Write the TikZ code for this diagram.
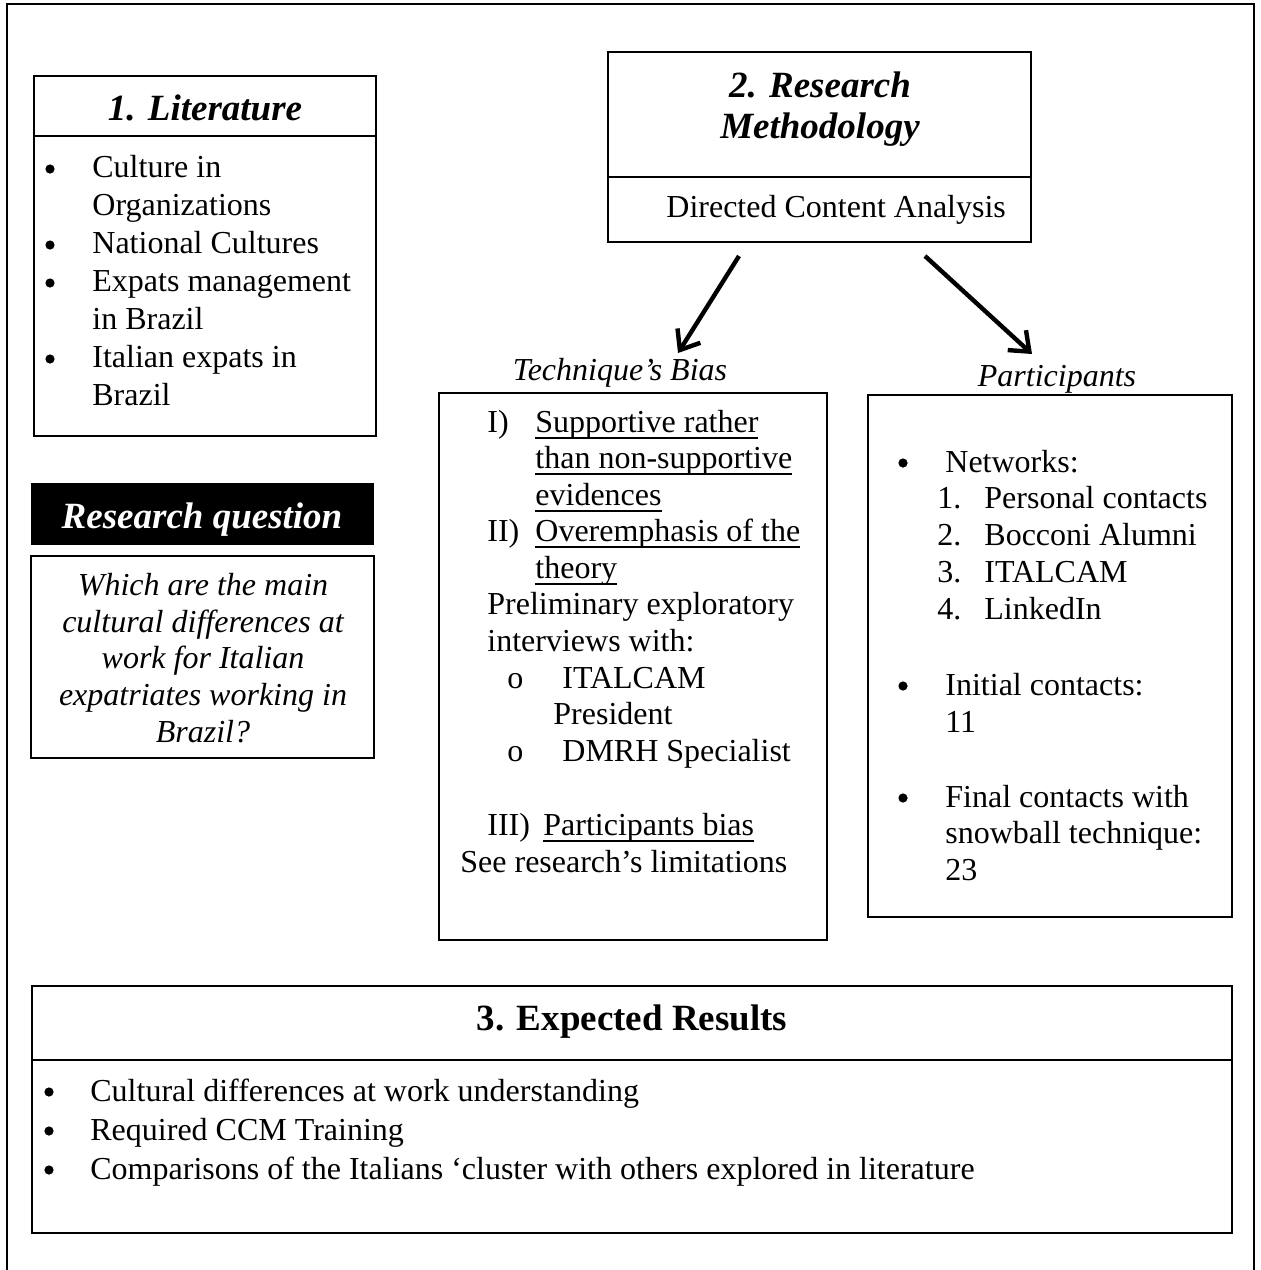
\documentclass[tikz,border=0pt]{standalone}
\usepackage{fontspec}
\setmainfont{Liberation Serif}
\usetikzlibrary{arrows.meta,fit}
\newcommand{\ulx}[1]{\setbox0\hbox{#1}\rlap{\vrule width\wd0 height -2.6pt depth 3.4pt}\box0}
\tikzset{
  boxline/.style={draw=black, line width=0.8pt, inner sep=0pt},
  body/.style={anchor=base west, inner sep=0pt, font=\fontsize{16}{19}\selectfont},
  bodyc/.style={anchor=base, inner sep=0pt, font=\fontsize{16}{19}\selectfont},
  qtext/.style={anchor=base, inner sep=0pt, font=\fontsize{16}{19}\selectfont\itshape},
  ttl/.style={anchor=base, inner sep=0pt, font=\fontsize{18.5}{22}\selectfont\bfseries\itshape},
  ttlup/.style={anchor=base, inner sep=0pt, font=\fontsize{18.5}{22}\selectfont\bfseries},
  lbl/.style={anchor=base, inner sep=0pt, font=\fontsize{16}{19}\selectfont\itshape},
  bulletdot/.style={circle, fill=black, inner sep=0pt, minimum size=4.6pt},
  arr/.style={line width=2.2pt, -{Straight Barb[length=8.5pt,width=13.5pt]}},
}
\begin{document}
\begin{tikzpicture}[x=0.5pt,y=-0.5pt]
\useasboundingbox (0,0) rectangle (1260,1270);
% outer frame (open at the bottom)
\draw[line width=1pt] (7,1280) -- (7,4) -- (1254,4) -- (1254,1280);

% ---------- 1. Literature ----------
\node[boxline, fit={(34,76) (376,436)}] (lit) {};
\draw[line width=0.8pt] (34,136) -- (376,136);
\node[ttl] (littitle) at (205,120) {1. Literature};
\node[bulletdot] (lb1) at (50,169) {};
\node[bulletdot] (lb2) at (50,245) {};
\node[bulletdot] (lb3) at (50,283) {};
\node[bulletdot] (lb4) at (50,359) {};
\node[body] (l1) at (92,177) {Culture in};
\node[body] (l2) at (92,215) {Organizations};
\node[body] (l3) at (92,253) {National Cultures};
\node[body] (l4) at (92,291) {Expats management};
\node[body] (l5) at (92,329) {in Brazil};
\node[body] (l6) at (92,367) {Italian expats in};
\node[body] (l7) at (92,405) {Brazil};

% ---------- Research question ----------
\node[fill=black, inner sep=0pt, fit={(31,483) (374,545)}] (rqhead) {};
\node[ttl, text=white] (rqtitle) at (202,528) {Research question};
\node[boxline, fit={(31,556) (374,758)}] (rq) {};
\node[qtext] (q1) at (203,595) {Which are the main};
\node[qtext] (q2) at (203,632) {cultural differences at};
\node[qtext] (q3) at (203,668) {work for Italian};
\node[qtext] (q4) at (203,705) {expatriates working in};
\node[qtext] (q5) at (203,742) {Brazil?};

% ---------- 2. Research Methodology ----------
\node[boxline, fit={(608,52) (1031,242)}] (meth) {};
\draw[line width=1pt] (608,177) -- (1031,177);
\node[ttl] (mt1) at (820,97) {2. Research};
\node[ttl] (mt2) at (820,138) {Methodology};
\node[body] (dca) at (666,217) {Directed Content Analysis};

% arrows
\coordinate (a1s) at (739,256);
\coordinate (a1e) at (678,353);
\coordinate (a2s) at (925,256);
\coordinate (a2e) at (1032,354);
\draw[arr] (a1s) -- (a1e);
\draw[arr] (a2s) -- (a2e);

% labels
\node[lbl] (tblabel) at (620,380) {Technique’s Bias};
\node[lbl] (plabel) at (1057,386) {Participants};

% ---------- Technique's Bias box ----------
\node[boxline, fit={(439,393) (827,940)}] (tech) {};
\node[body] (t1n) at (487,432) {I)};
\node[body] (t1a) at (535,432) {\ulx{Supportive rather}};
\node[body] (t1b) at (535,468) {\ulx{than non-supportive}};
\node[body] (t1c) at (535,505) {\ulx{evidences}};
\node[body] (t2n) at (487,541) {II)};
\node[body] (t2a) at (535,541) {\ulx{Overemphasis of the}};
\node[body] (t2b) at (535,578) {\ulx{theory}};
\node[body] (t3) at (487,614) {Preliminary exploratory};
\node[body] (t4) at (487,651) {interviews with:};
\node[body] (t5o) at (507,688) {o};
\node[body] (t5) at (562,688) {ITALCAM};
\node[body] (t6) at (553,724) {President};
\node[body] (t7o) at (507,761) {o};
\node[body] (t7) at (562,761) {DMRH Specialist};
\node[body] (t8n) at (487,835) {III)};
\node[body] (t8) at (543,835) {\ulx{Participants bias}};
\node[body] (t9) at (460,872) {See research’s limitations};

% ---------- Participants box ----------
\node[boxline, fit={(868,395) (1232,917)}] (part) {};
\node[bulletdot] (pb1) at (903,463) {};
\node[bulletdot] (pb2) at (903,686) {};
\node[bulletdot] (pb3) at (903,798) {};
\node[body] (p0) at (945,472) {Networks:};
\node[body] (pn1) at (937,508) {1.};
\node[body] (pn2) at (937,545) {2.};
\node[body] (pn3) at (937,582) {3.};
\node[body] (pn4) at (937,619) {4.};
\node[body] (p1) at (984,508) {Personal contacts};
\node[body] (p2) at (984,545) {Bocconi Alumni};
\node[body] (p3) at (984,582) {ITALCAM};
\node[body] (p4) at (984,619) {LinkedIn};
\node[body] (p5) at (945,695) {Initial contacts:};
\node[body] (p6) at (945,732) {11};
\node[body] (p7) at (945,807) {Final contacts with};
\node[body] (p8) at (945,843) {snowball technique:};
\node[body] (p9) at (945,880) {23};

% ---------- 3. Expected Results ----------
\node[draw=black, line width=1.1pt, inner sep=0pt, fit={(32,986) (1232,1233)}] (exp) {};
\draw[line width=1.1pt] (32,1060) -- (1232,1060);
\node[ttlup] (exptitle) at (632,1030) {3. Expected Results};
\node[bulletdot] (eb1) at (49,1092) {};
\node[bulletdot] (eb2) at (49,1131) {};
\node[bulletdot] (eb3) at (49,1170) {};
\node[body] (e1) at (90,1101) {Cultural differences at work understanding};
\node[body] (e2) at (90,1140) {Required CCM Training};
\node[body] (e3) at (90,1179) {Comparisons of the Italians ‘cluster with others explored in literature};
\end{tikzpicture}
\end{document}
